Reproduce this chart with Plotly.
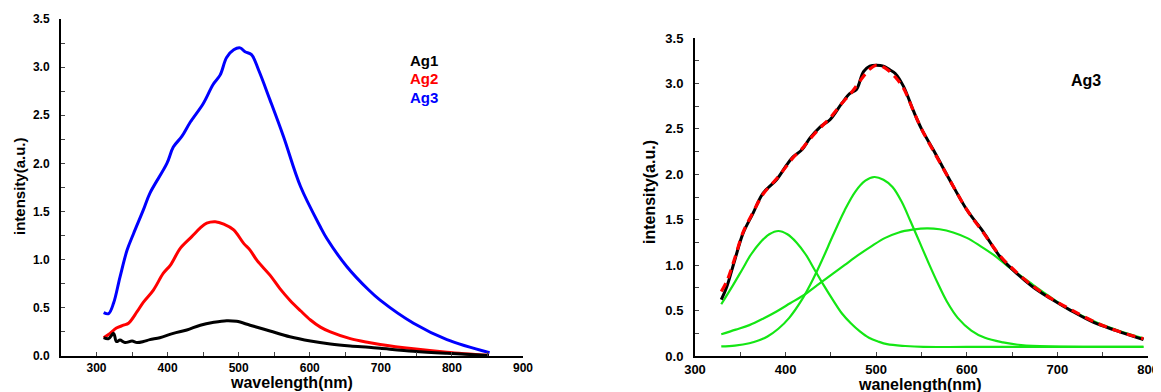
import plotly.graph_objects as go

# ---------------- Left panel: emission spectra ----------------
wl_ag1 = [310, 317, 324, 328, 333, 340, 350, 357, 366, 375, 389, 408, 427, 446, 465, 483, 497,
          516, 544, 572, 601, 629, 657, 683, 699, 746, 793, 852]
ag1 = [0.19, 0.18, 0.235, 0.15, 0.165, 0.14, 0.155, 0.14, 0.15, 0.17, 0.19, 0.235, 0.27, 0.32,
       0.35, 0.367, 0.36, 0.32, 0.26, 0.20, 0.156, 0.125, 0.104, 0.09, 0.08, 0.05, 0.028, 0.005]

wl_ag2 = [310, 319, 328, 338, 345, 357, 366, 380, 394, 404, 418, 434, 446, 455, 467, 479, 493,
          507, 516, 526, 544, 558, 572, 587, 601, 615, 629, 657, 683, 699, 746, 793, 852]
ag2 = [0.19, 0.235, 0.29, 0.32, 0.34, 0.46, 0.56, 0.685, 0.86, 0.945, 1.12, 1.24, 1.33, 1.38,
       1.395, 1.37, 1.31, 1.17, 1.10, 0.99, 0.84, 0.70, 0.58, 0.47, 0.374, 0.30, 0.25, 0.18,
       0.14, 0.12, 0.075, 0.04, 0.007]

wl_ag3 = [310, 317, 324, 333, 343, 352, 366, 375, 399, 408, 420, 432, 450, 464, 474, 483, 493,
          502, 509, 518, 528, 544, 563, 587, 615, 624, 652, 683, 699, 746, 793, 853]
ag3 = [0.45, 0.44, 0.55, 0.82, 1.10, 1.27, 1.52, 1.69, 2.00, 2.17, 2.28, 2.43, 2.62, 2.82, 2.92,
       3.10, 3.18, 3.20, 3.16, 3.13, 2.97, 2.66, 2.28, 1.76, 1.34, 1.22, 0.93, 0.685, 0.58, 0.34,
       0.17, 0.035]

legend_left = ["Ag1", "Ag2", "Ag3"]

# ---------------- Right panel: Ag3 deconvolution ----------------
wl_meas = [329, 335, 344, 353, 364, 375, 390, 401, 408, 418, 427, 438, 449, 462, 471, 478, 486,
           493, 500, 508, 515, 521, 530, 541, 550, 563, 581, 600, 618, 637, 655, 673, 692, 715,
           740, 765, 795]
meas = [0.62, 0.76, 1.06, 1.35, 1.57, 1.79, 1.94, 2.10, 2.19, 2.27, 2.40, 2.52, 2.60, 2.78, 2.89,
        2.93, 3.13, 3.19, 3.20, 3.19, 3.15, 3.11, 2.97, 2.70, 2.50, 2.27, 1.94, 1.61, 1.37, 1.09,
        0.91, 0.76, 0.635, 0.50, 0.37, 0.28, 0.18]
fit = [0.71, 0.82, 1.08, 1.36, 1.58, 1.78, 1.95, 2.09, 2.18, 2.28, 2.39, 2.51, 2.62, 2.78, 2.88,
       2.97, 3.08, 3.16, 3.20, 3.18, 3.13, 3.07, 2.95, 2.70, 2.50, 2.26, 1.94, 1.61, 1.36, 1.10,
       0.92, 0.77, 0.64, 0.51, 0.38, 0.28, 0.19]

wl_g1 = [329, 342, 352, 362, 372, 382, 392, 402, 412, 422, 432, 442, 452, 462, 472, 482, 492,
         502, 512, 532, 552, 600, 700, 795]
g1 = [0.57, 0.78, 0.95, 1.12, 1.25, 1.34, 1.376, 1.34, 1.25, 1.12, 0.95, 0.78, 0.62, 0.47, 0.36,
      0.27, 0.20, 0.16, 0.13, 0.11, 0.10, 0.10, 0.10, 0.10]

wl_g2 = [329, 344, 360, 370, 380, 392, 404, 418, 430, 440, 452, 465, 477, 488, 498, 508, 518,
         528, 538, 548, 558, 568, 578, 590, 605, 620, 640, 660, 690, 795]
g2 = [0.105, 0.115, 0.14, 0.17, 0.215, 0.30, 0.42, 0.62, 0.84, 1.05, 1.32, 1.60, 1.81, 1.93,
      1.97, 1.94, 1.86, 1.70, 1.48, 1.25, 1.02, 0.80, 0.60, 0.42, 0.28, 0.20, 0.15, 0.12, 0.105,
      0.10]

wl_g3 = [329, 345, 360, 375, 390, 405, 420, 435, 450, 465, 480, 495, 510, 525, 540, 556, 570,
         585, 600, 615, 630, 645, 660, 675, 692, 710, 732, 750, 770, 795]
g3 = [0.24, 0.29, 0.34, 0.41, 0.49, 0.58, 0.67, 0.78, 0.89, 1.00, 1.11, 1.21, 1.30, 1.36, 1.39,
      1.405, 1.395, 1.36, 1.30, 1.21, 1.11, 0.99, 0.88, 0.77, 0.65, 0.53, 0.42, 0.34, 0.27, 0.195]

W, H = 1161, 392
OFF = 8  # page body margin offset
FONT = "Liberation Sans, Arial, sans-serif"
GREEN = "rgb(20,230,20)"

def px_x(p):
    return (p - OFF) / W

def px_y(p):
    return 1 - (p - OFF) / H

fig = go.Figure()

# left traces
fig.add_trace(go.Scatter(x=wl_ag3, y=ag3, mode="lines", line=dict(color="#0000ff", width=3),
                         line_shape="spline", xaxis="x", yaxis="y", name="Ag3"))
fig.add_trace(go.Scatter(x=wl_ag2, y=ag2, mode="lines", line=dict(color="#ff0000", width=3),
                         line_shape="spline", xaxis="x", yaxis="y", name="Ag2"))
fig.add_trace(go.Scatter(x=wl_ag1, y=ag1, mode="lines", line=dict(color="#000000", width=3),
                         line_shape="spline", xaxis="x", yaxis="y", name="Ag1"))

# right traces
for wl, g in [(wl_g1, g1), (wl_g2, g2), (wl_g3, g3)]:
    fig.add_trace(go.Scatter(x=wl, y=g, mode="lines", line=dict(color=GREEN, width=2.2),
                             line_shape="spline", xaxis="x2", yaxis="y2"))
fig.add_trace(go.Scatter(x=wl_meas, y=meas, mode="lines", line=dict(color="#000000", width=3),
                         line_shape="spline", xaxis="x2", yaxis="y2"))
fig.add_trace(go.Scatter(x=wl_meas, y=fit, mode="lines",
                         line=dict(color="#ff0000", width=3.2, dash="9px,6px"),
                         line_shape="spline", xaxis="x2", yaxis="y2"))

def xaxis_style(dom, rng, anchor, size):
    return dict(domain=dom, range=rng, anchor=anchor, dtick=100, tick0=0, automargin=False,
                showline=True, linecolor="black", linewidth=2, showgrid=False, zeroline=False,
                ticks="inside", ticklen=4, tickcolor="#444", tickwidth=1,
                minor=dict(dtick=50, ticks="inside", ticklen=4, tickcolor="#444", showgrid=False),
                tickfont=dict(family=FONT, size=size, color="black", weight="bold"),
                ticklabelstandoff=0, fixedrange=True)

def yaxis_style(dom, anchor, size):
    return dict(domain=dom, range=[0, 3.5], anchor=anchor, dtick=0.5, tick0=0, tickformat=".1f",
                automargin=False,
                showline=True, linecolor="black", linewidth=2, showgrid=False, zeroline=False,
                ticks="inside", ticklen=4, tickcolor="#444", tickwidth=1,
                minor=dict(dtick=0.25, ticks="inside", ticklen=4, tickcolor="#444", showgrid=False),
                tickfont=dict(family=FONT, size=size, color="black", weight="bold"),
                ticklabelstandoff=7, fixedrange=True)

fig.update_layout(
    width=W, height=H, autosize=False,
    margin=dict(l=0, r=0, t=0, b=0, pad=0, autoexpand=False),
    paper_bgcolor="white", plot_bgcolor="white", showlegend=False,
    xaxis=xaxis_style([px_x(61), px_x(523)], [250, 900], "y", 12),
    yaxis=yaxis_style([px_y(356), px_y(19)], "x", 12),
    xaxis2=xaxis_style([px_x(695), px_x(1148)], [300, 800], "y2", 13),
    yaxis2=yaxis_style([px_y(356), px_y(38)], "x2", 13),
)

ann = []
def text(x, y, s, size, color="black", angle=0):
    ann.append(dict(x=px_x(x), y=px_y(y), xref="paper", yref="paper", text=s, showarrow=False,
                    textangle=angle, xanchor="center", yanchor="middle",
                    font=dict(family=FONT, size=size, color=color, weight="bold")))

# axis titles
text(291, 382, "wavelength(nm)", 16)
text(19, 186, "intensity(a.u.)", 15, angle=-90)
text(920, 384, "wanelength(nm)", 16)
text(649, 192, "intensity(a.u.)", 16, angle=-90)

# legend labels
leg_colors = ["#000000", "#ff0000", "#0000ff"]
for i, (lab, col) in enumerate(zip(legend_left, leg_colors)):
    text(424, 60 + 18.5 * i, lab, 15, color=col)
text(1086, 80, "Ag3", 16)

fig.update_layout(annotations=ann)
fig.write_html("out.html")
